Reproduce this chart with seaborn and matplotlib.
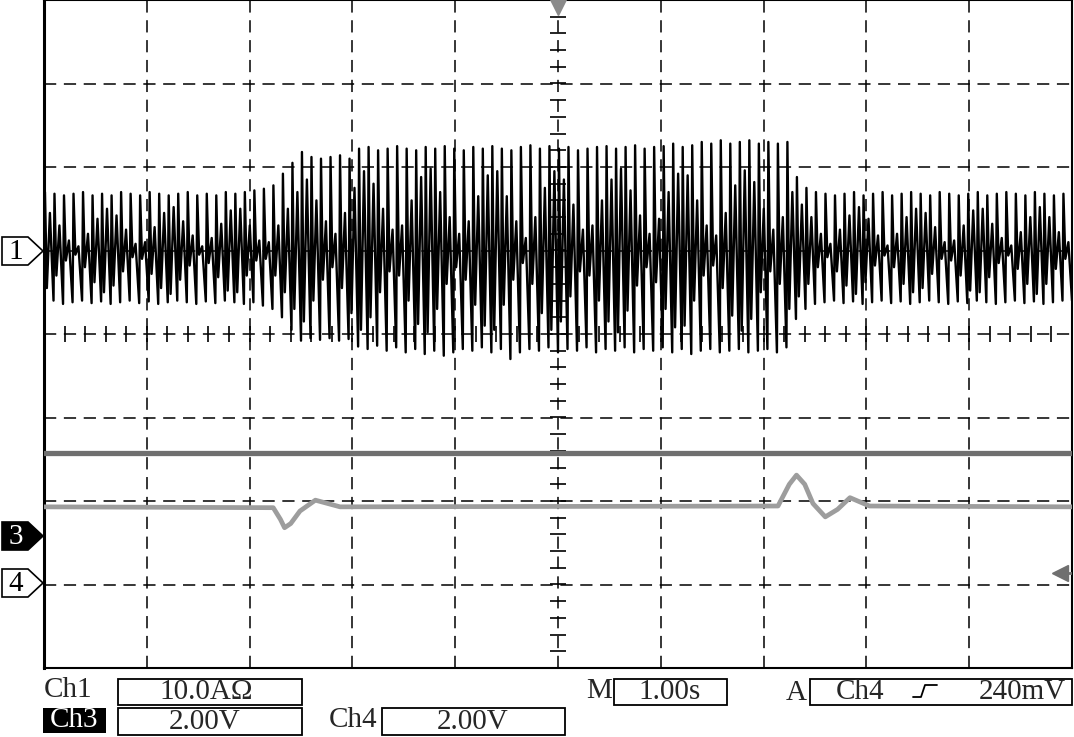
import numpy as np
import seaborn as sns
import matplotlib.pyplot as plt
from matplotlib.patches import Polygon, Rectangle
from matplotlib.lines import Line2D

# Ch1 peaks per cycle, in divisions from the Ch1 reference level
ch1_upper = [
    0.70, 0.68, 0.66, 0.68, 0.70, 0.66, 0.68, 0.66, 0.70, 0.68,
    0.66, 0.70, 0.68, 0.66, 0.68, 0.70, 0.66, 0.68, 0.66, 0.70,
    0.68, 0.70, 0.72, 0.74, 0.78,
    0.92, 1.05, 1.18, 1.12, 1.10, 1.12, 1.14, 1.10,
    1.22, 1.24, 1.20, 1.22, 1.25, 1.22, 1.20, 1.24, 1.22, 1.25,
    1.22, 1.20, 1.24, 1.22, 1.25, 1.22, 1.20, 1.24, 1.26, 1.22,
    1.25, 1.22, 1.24, 1.20, 1.22, 1.24, 1.25, 1.22, 1.24, 1.26,
    1.22, 1.24, 1.25, 1.28, 1.24, 1.26, 1.30, 1.28, 1.32, 1.28,
    1.30, 1.32, 1.28, 1.30, 1.28, 1.30,
    0.88, 0.75, 0.70, 0.68, 0.66, 0.68, 0.70, 0.66, 0.68, 0.70,
    0.66, 0.68, 0.70, 0.68, 0.66, 0.70, 0.68, 0.66, 0.68, 0.70,
    0.66, 0.68, 0.70, 0.68, 0.66, 0.70, 0.68, 0.66, 0.68,
]
ch1_lower = [
    -0.62, -0.60, -0.64, -0.62, -0.60, -0.63, -0.61, -0.64, -0.62, -0.60,
    -0.63, -0.61, -0.64, -0.62, -0.60, -0.62, -0.64, -0.61, -0.63, -0.60,
    -0.62, -0.64, -0.62, -0.66, -0.70,
    -0.80, -0.95, -1.08, -1.05, -1.07, -1.05, -1.08, -1.06,
    -1.15, -1.18, -1.14, -1.20, -1.16, -1.22, -1.18, -1.24, -1.20, -1.26,
    -1.22, -1.18, -1.20, -1.16, -1.22, -1.18, -1.30, -1.22, -1.18, -1.20,
    -1.16, -1.22, -1.18, -1.20, -1.16, -1.22, -1.18, -1.20, -1.16, -1.22,
    -1.18, -1.20, -1.16, -1.22, -1.18, -1.24, -1.20, -1.18, -1.22, -1.20,
    -1.18, -1.22, -1.20, -1.18, -1.22, -1.16,
    -0.82, -0.70, -0.64, -0.62, -0.60, -0.63, -0.61, -0.64, -0.62, -0.60,
    -0.63, -0.61, -0.64, -0.62, -0.60, -0.62, -0.64, -0.61, -0.63, -0.60,
    -0.62, -0.64, -0.62, -0.60, -0.63, -0.61, -0.64, -0.62, -0.60,
]
ch1_inner = [
    0.45, 0.30, 0.12, 0.05, 0.20, 0.38, 0.50, 0.42, 0.25, 0.08,
    0.10, 0.28, 0.45, 0.52, 0.35, 0.18, 0.05, 0.15, 0.32, 0.48,
    0.50, 0.30, 0.12, 0.10, 0.30,
    0.50, 0.70, 0.85, 0.60, 0.35, 0.20, 0.45, 0.75,
    0.95, 0.80, 0.50, 0.25, 0.30, 0.60, 0.88, 0.98, 0.70, 0.40,
    0.20, 0.35, 0.65, 0.90, 0.95, 0.65, 0.35, 0.15, 0.40, 0.75,
    0.95, 0.85, 0.55, 0.25, 0.30, 0.60, 0.85, 0.98, 0.72, 0.42,
    0.20, 0.38, 0.70, 0.92, 0.90, 0.60, 0.30, 0.18, 0.45, 0.78,
    0.96, 0.82, 0.50, 0.25, 0.40, 0.70,
    0.55, 0.40, 0.20, 0.08, 0.25, 0.42, 0.52, 0.38, 0.18, 0.06,
    0.20, 0.40, 0.50, 0.45, 0.28, 0.10, 0.12, 0.30, 0.48, 0.50,
    0.32, 0.15, 0.06, 0.22, 0.40, 0.52, 0.40, 0.22, 0.10,
]
ch1_ref = 1.0

# Ch3 / Ch4 traces (divisions)
ch3_x = [0, 2.23, 2.30, 2.34, 2.40, 2.49, 2.64, 2.88, 7.14, 7.25, 7.32, 7.40,
         7.48, 7.60, 7.72, 7.84, 8.03, 10]
ch3_y = [-2.07, -2.08, -2.22, -2.32, -2.27, -2.12, -1.99, -2.07, -2.06, -1.80,
         -1.69, -1.80, -2.03, -2.19, -2.10, -1.96, -2.06, -2.07]
ch4_x = [0, 10]
ch4_y = [-1.43, -1.43]

W, H = 1074, 737
sns.set_theme(style="white")
plt.rcParams['font.family'] = ['Liberation Serif', 'DejaVu Serif']

fig = plt.figure(figsize=(W / 100, H / 100), dpi=100)
ax = fig.add_axes([44 / W, (H - 668) / H, 1028 / W, 668 / H])
ax.set_xlim(0, 10)
ax.set_ylim(-4, 4)
ax.set_xticks([])
ax.set_yticks([])
for s in ax.spines.values():
    s.set_color('black')
    s.set_linewidth(1.5)
ax.spines['left'].set_linewidth(2.2)

# graticule
dash = (0, (8, 5))
for gx in range(1, 10):
    ax.axvline(gx, color='black', lw=1.1, ls=dash, zorder=2)
for gy in range(-3, 4):
    ax.axhline(gy, color='black', lw=1.1, ls=dash, zorder=2)
tx = np.arange(0, 10.01, 0.2)
ax.plot(tx, np.zeros_like(tx), ls='none', marker='|', ms=11, mew=1.2,
        color='black', zorder=2)
ty = np.arange(-4, 4.01, 0.2)
ax.plot(np.full_like(ty, 5), ty, ls='none', marker='_', ms=11, mew=1.2,
        color='black', zorder=2)

# Ch4 and Ch3
sns.lineplot(x=ch4_x, y=ch4_y, sort=False, estimator=None, color='#6f6f6f',
             lw=3.8, ax=ax, zorder=3)
sns.lineplot(x=ch3_x, y=ch3_y, sort=False, estimator=None, color='#9d9d9d',
             lw=3.4, ax=ax, zorder=3)

# Ch1: rebuild each cycle from its peak values
n = len(ch1_upper)
w = 10.0 / n
xs, ys = [], []
for i in range(n):
    t = i * w
    xs += [t, t + 0.1 * w, t + 0.3 * w, t + 0.62 * w]
    ys += [ch1_lower[i], ch1_upper[i], -ch1_inner[i], ch1_inner[i]]
xs.append(10.0)
ys.append(ch1_lower[-1])
ys = [ch1_ref + v for v in ys]
sns.lineplot(x=xs, y=ys, sort=False, estimator=None, color='black',
             lw=1.7, ax=ax, zorder=4)

# trigger markers
ax.plot([5], [3.93], marker='v', ms=13, color='#8a8a8a', clip_on=False, zorder=5)
ax.plot([9.9, 10], [-2.86, -2.86], color='#6f6f6f', lw=2, zorder=5)
ax.plot([9.88], [-2.86], marker='<', ms=11, color='#6f6f6f', zorder=5)


def f(x, y):
    return x / W, 1 - y / H


def marker(yc, label, filled):
    pts = [f(2, yc - 14), f(28, yc - 14), f(43, yc), f(28, yc + 14), f(2, yc + 14)]
    fig.patches.append(Polygon(pts, closed=True, transform=fig.transFigure,
                               facecolor='black' if filled else 'white',
                               edgecolor='black', lw=1.2))
    fig.text(*f(16, yc + 1), label, ha='center', va='center', fontsize=21,
             color='white' if filled else 'black')


marker(251, '1', False)
marker(536, '3', True)
marker(583, '4', False)


def box(x0, y0, x1, y1):
    fig.patches.append(Rectangle(f(x0, y1), (x1 - x0) / W, (y1 - y0) / H,
                                 transform=fig.transFigure, fill=False,
                                 edgecolor='black', lw=1.3))


fs = 21
box(118, 679, 302, 705)
box(118, 708, 302, 735)
box(382, 708, 565, 735)
box(614, 679, 727, 705)
box(810, 679, 1072, 705)
fig.patches.append(Rectangle(f(43, 733), 63 / W, 25 / H, transform=fig.transFigure,
                             facecolor='black', edgecolor='none'))

fig.text(*f(68, 690), 'Ch1', ha='center', va='center', fontsize=fs)
fig.text(*f(74, 720), 'Ch3', ha='center', va='center', fontsize=fs, color='white')
fig.text(*f(206, 692), '10.0AΩ', ha='center', va='center', fontsize=fs)
fig.text(*f(205, 722), '2.00V', ha='center', va='center', fontsize=fs)
fig.text(*f(353, 720), 'Ch4', ha='center', va='center', fontsize=fs)
fig.text(*f(473, 722), '2.00V', ha='center', va='center', fontsize=fs)
fig.text(*f(599, 691), 'M', ha='center', va='center', fontsize=fs)
fig.text(*f(670, 692), '1.00s', ha='center', va='center', fontsize=fs)
fig.text(*f(796, 693), 'A', ha='center', va='center', fontsize=fs)
fig.text(*f(860, 692), 'Ch4', ha='center', va='center', fontsize=fs)
fig.text(*f(1022, 692), '240mV', ha='center', va='center', fontsize=fs)
ex, ey = zip(*[f(913, 697), f(921, 697), f(925, 685), f(937, 685)])
fig.lines.append(Line2D(ex, ey, transform=fig.transFigure, color='black', lw=1.3))

fig.savefig('out.png', dpi=100)
